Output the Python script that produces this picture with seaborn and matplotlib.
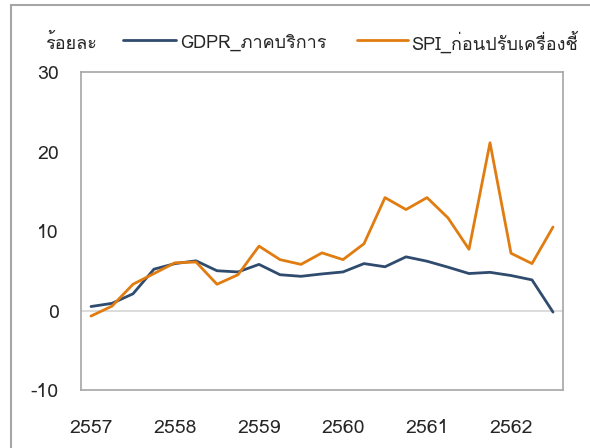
import numpy as np
import pandas as pd
import matplotlib
matplotlib.use("Agg")
import matplotlib.pyplot as plt
import seaborn as sns
from matplotlib import font_manager
from matplotlib.ft2font import FT2Font
from matplotlib.patches import Rectangle

# ---- data ----
years = ["2557", "2558", "2559", "2560", "2561", "2562"]
gdpr = [0.5, 0.9, 2.1, 5.2, 5.9, 6.25, 5.0, 4.85, 5.8, 4.5, 4.3, 4.6,
        4.85, 5.9, 5.5, 6.75, 6.2, 5.45, 4.65, 4.8, 4.4, 3.85, -0.2]
spi = [-0.7, 0.55, 3.3, 4.65, 6.0, 6.1, 3.3, 4.5, 8.1, 6.4, 5.8, 7.25,
       6.4, 8.4, 14.2, 12.7, 14.2, 11.65, 7.7, 21.1, 7.2, 5.9, 10.5]
yticks = [-10, 0, 10, 20, 30]
label_gdpr = "GDPR_ภาคบริการ"
label_spi = "SPI_ก่อนปรับเครื่องชี้"
unit_label = "ร้อยละ"

# ---- font with Thai glyphs ----
thai_font = None
for f in font_manager.fontManager.ttflist:
    try:
        cm = FT2Font(f.fname).get_charmap()
        if 0x0E01 in cm and 0x0E49 in cm:
            thai_font = f.name
            break
    except Exception:
        pass

sns.set_theme(style="white")
fams = ([thai_font] if thai_font else []) + ["DejaVu Sans"]
plt.rcParams["font.family"] = fams

df = pd.DataFrame({
    "q": np.arange(len(gdpr)),
    label_gdpr: gdpr,
    label_spi: spi,
})
long = df.melt(id_vars="q", var_name="series", value_name="v")

fig = plt.figure(figsize=(5.9, 4.48), dpi=100)
ax = fig.add_axes([81 / 590, 1 - 390 / 448, (563 - 81) / 590, (390 - 72) / 448])

sns.lineplot(data=long, x="q", y="v", hue="series",
             palette={label_gdpr: "#2F4B6E", label_spi: "#E07C10"},
             linewidth=2.0, ax=ax, legend=False)

ax.axhline(0, color="#D9D9D9", lw=1.3, zorder=0)
ax.set_ylim(-10, 30)
ax.set_xlim(-0.476, 22.476)
ax.set_yticks(yticks)
ax.set_yticklabels([str(t) for t in yticks], fontsize=14, color="#262626")
ax.set_xticks([4 * i for i in range(len(years))])
ax.set_xticklabels(years, fontsize=14, color="#262626")
ax.tick_params(axis="y", length=0, pad=16)
ax.tick_params(axis="x", length=0, pad=21)
ax.set_xlabel("")
ax.set_ylabel("")
for s in ax.spines.values():
    s.set_color("#A6A6A6")
    s.set_linewidth(1.2)

# figure border (partially visible)
fig.patches.append(Rectangle((10.5 / 590, -0.1), 1.2, 1 - 4.5 / 448 + 0.1,
                             transform=fig.transFigure, fill=False,
                             edgecolor="#A6A6A6", lw=1.5))

# legend row
fig.text(45 / 590, 1 - 43 / 448, unit_label, fontsize=13, va="center", ha="left", color="#262626")
y_leg = 1 - 40 / 448
fig.add_artist(plt.Line2D([123 / 590, 176 / 590], [y_leg, y_leg], color="#2F4B6E", lw=2.0))
fig.text(180 / 590, 1 - 43 / 448, label_gdpr, fontsize=13, va="center", ha="left", color="#262626")
fig.add_artist(plt.Line2D([357 / 590, 408 / 590], [y_leg, y_leg], color="#E07C10", lw=2.0))
fig.text(411 / 590, 1 - 43 / 448, label_spi, fontsize=13, va="center", ha="left", color="#262626")

fig.savefig("out.png", dpi=100)
